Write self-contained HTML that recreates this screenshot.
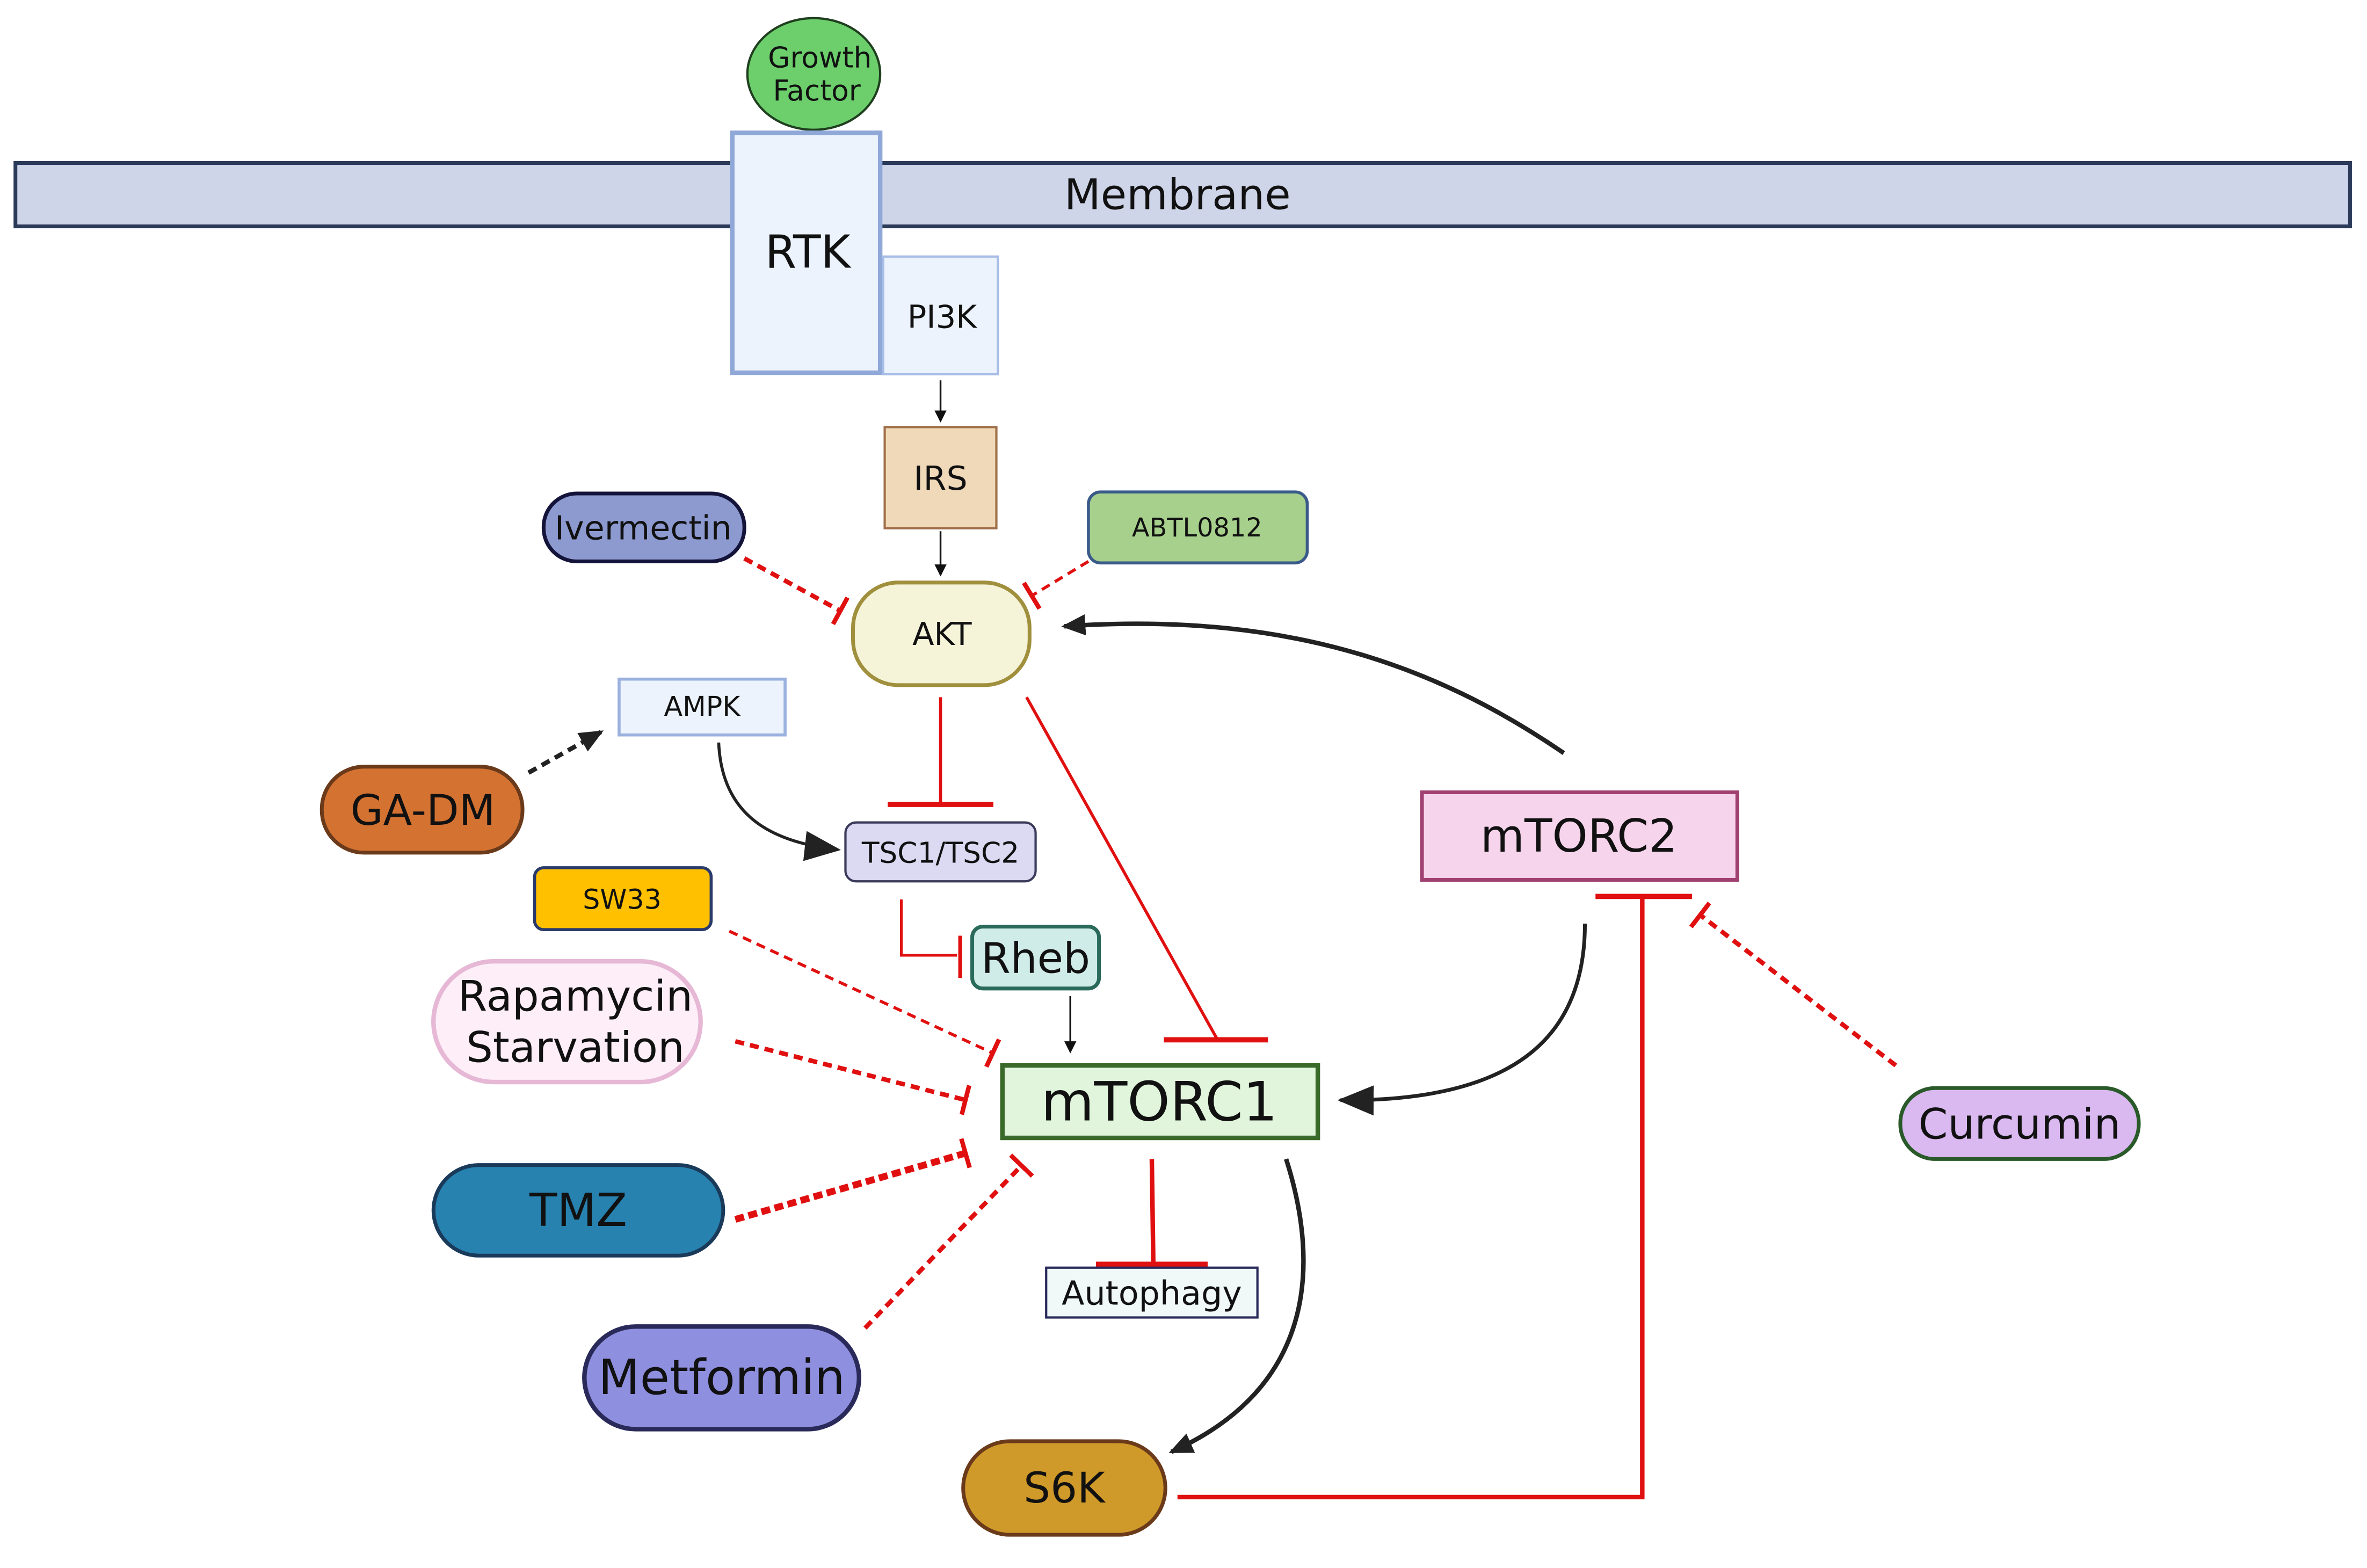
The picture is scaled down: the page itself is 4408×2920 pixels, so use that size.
<!DOCTYPE html>
<html><head><meta charset="utf-8"><style>
html,body{margin:0;padding:0;background:#fff;}
svg{display:block;}
text{font-family:"DejaVu Sans","Liberation Sans",sans-serif;text-anchor:middle;dominant-baseline:central;fill:#111;}
</style></head><body>
<svg width="4408" height="2920" viewBox="0 0 1568 1039" xmlns="http://www.w3.org/2000/svg">
<defs>
<marker id="a" markerWidth="8" markerHeight="8" refX="7" refY="4" orient="auto" markerUnits="userSpaceOnUse"><path d="M0,0 L8,4 L0,8 z" fill="#111"/></marker>
<marker id="b" markerWidth="24" markerHeight="20" refX="22" refY="10" orient="auto" markerUnits="userSpaceOnUse"><path d="M0,0 L24,10 L0,20 z" fill="#222"/></marker>
<marker id="c" markerWidth="16" markerHeight="14" refX="14" refY="7" orient="auto" markerUnits="userSpaceOnUse"><path d="M0,0 L16,7 L0,14 z" fill="#222"/></marker>
<marker id="t" markerWidth="4" markerHeight="20" refX="2" refY="10" orient="auto" markerUnits="userSpaceOnUse"><rect x="0" y="0" width="3" height="20" fill="#e01010"/></marker>
</defs>
<rect width="1568" height="1039" fill="#fff"/>
<!-- membrane -->
<rect x="10" y="108" width="1547" height="42" fill="#cfd5e8" stroke="#2c3a5a" stroke-width="2.5"/>
<text x="780" y="129" font-size="28">Membrane</text>
<ellipse cx="539" cy="49" rx="44" ry="37" fill="#6ccf6c" stroke="#1f3f1f" stroke-width="1.5"/>
<text x="543" y="38" font-size="19">Growth</text>
<text x="541" y="60" font-size="19">Factor</text>
<rect x="485" y="88" width="98" height="159" fill="#ecf3fc" stroke="#8fa8d8" stroke-width="3"/>
<text x="535" y="167" font-size="30">RTK</text>
<rect x="585" y="170" width="76" height="78" fill="#ecf3fc" stroke="#a8bde6" stroke-width="1.5"/>
<text x="624" y="210" font-size="21">PI3K</text>
<line x1="623" y1="252" x2="623" y2="279" stroke="#111" stroke-width="1.2" marker-end="url(#a)"/>
<rect x="586" y="283" width="74" height="67" fill="#efd9b9" stroke="#a0704a" stroke-width="1.5"/>
<text x="623" y="317" font-size="22">IRS</text>
<line x1="623" y1="352" x2="623" y2="381" stroke="#111" stroke-width="1.2" marker-end="url(#a)"/>
<rect x="565" y="386" width="117" height="68" rx="30" fill="#f5f3d8" stroke="#a08f3c" stroke-width="2.5"/>
<text x="624" y="420" font-size="21">AKT</text>
<rect x="360" y="327" width="133" height="45" rx="22" fill="#8d9ad0" stroke="#14143a" stroke-width="2.5"/>
<text x="426" y="350" font-size="22" fill="#1a2440">Ivermectin</text>
<rect x="721" y="326" width="145" height="47" rx="8" fill="#a8d08d" stroke="#3a5a8a" stroke-width="2"/>
<text x="793" y="350" font-size="17">ABTL0812</text>
<line x1="493" y1="370" x2="557" y2="405" stroke="#e01010" stroke-width="3" stroke-dasharray="6,4" marker-end="url(#t)"/>
<line x1="721" y1="372" x2="683" y2="395" stroke="#e01010" stroke-width="2" stroke-dasharray="6,4" marker-end="url(#t)"/>
<rect x="410" y="450" width="110" height="37" fill="#ecf3fc" stroke="#9ab0dd" stroke-width="2"/>
<text x="465" y="468" font-size="18">AMPK</text>
<rect x="213" y="508" width="133" height="57" rx="28" fill="#d47232" stroke="#6a3a1a" stroke-width="2.5"/>
<text x="280" y="537" font-size="28">GA-DM</text>
<line x1="350" y1="512" x2="398" y2="485" stroke="#222" stroke-width="3" stroke-dasharray="6,4" marker-end="url(#c)"/>
<path d="M476,492 C478,540 510,558 555,563" fill="none" stroke="#222" stroke-width="2" marker-end="url(#b)"/>
<line x1="623" y1="462" x2="623" y2="532" stroke="#e01010" stroke-width="2"/>
<line x1="588" y1="533" x2="658" y2="533" stroke="#e01010" stroke-width="3.5"/>
<line x1="680" y1="462" x2="806" y2="688" stroke="#e01010" stroke-width="2"/>
<line x1="771" y1="689" x2="840" y2="689" stroke="#e01010" stroke-width="3.5"/>
<rect x="560" y="545" width="126" height="39" rx="7" fill="#dcd9f2" stroke="#3a3a5a" stroke-width="1.5"/>
<text x="623" y="565" font-size="19">TSC1/TSC2</text>
<rect x="942" y="525" width="209" height="58" fill="#f6d4ec" stroke="#a04070" stroke-width="2.5"/>
<text x="1046" y="554" font-size="30">mTORC2</text>
<path d="M1036,499 C950,440 850,405 705,415" fill="none" stroke="#222" stroke-width="3" marker-end="url(#c)"/>
<line x1="1057" y1="594" x2="1121" y2="594" stroke="#e01010" stroke-width="3.5"/>
<polyline points="1088,594 1088,992 780,992" fill="none" stroke="#e01010" stroke-width="3"/>
<rect x="1259" y="721" width="158" height="47" rx="23" fill="#d9b9f0" stroke="#2a5a2a" stroke-width="2.5"/>
<text x="1338" y="745" font-size="28">Curcumin</text>
<line x1="1256" y1="706" x2="1126" y2="606" stroke="#e01010" stroke-width="3" stroke-dasharray="6,4" marker-end="url(#t)"/>
<path d="M1050,612 C1050,690 1000,730 888,729" fill="none" stroke="#222" stroke-width="2.5" marker-end="url(#b)"/>
<rect x="354" y="575" width="117" height="41" rx="6" fill="#ffc000" stroke="#2a3a6a" stroke-width="2"/>
<text x="412" y="596" font-size="18">SW33</text>
<line x1="483" y1="617" x2="658" y2="698" stroke="#e01010" stroke-width="2" stroke-dasharray="6,4" marker-end="url(#t)"/>
<rect x="287" y="637" width="177" height="80" rx="40" fill="#fdeef7" stroke="#e6b8d6" stroke-width="3"/>
<text x="381" y="660" font-size="28">Rapamycin</text>
<text x="381" y="694" font-size="28">Starvation</text>
<line x1="487" y1="690" x2="640" y2="729" stroke="#e01010" stroke-width="3" stroke-dasharray="6,4" marker-end="url(#t)"/>
<rect x="644" y="614" width="84" height="41" rx="7" fill="#d0ece8" stroke="#2a6a5a" stroke-width="2.5"/>
<text x="686" y="635" font-size="28">Rheb</text>
<polyline points="597,596 597,633 634,633" fill="none" stroke="#e01010" stroke-width="1.8"/>
<line x1="636" y1="620" x2="636" y2="648" stroke="#e01010" stroke-width="2.5"/>
<line x1="709" y1="660" x2="709" y2="697" stroke="#111" stroke-width="1.2" marker-end="url(#a)"/>
<rect x="664" y="706" width="209" height="48" fill="#e0f5dc" stroke="#3a6a2a" stroke-width="3"/>
<text x="768" y="730" font-size="36">mTORC1</text>
<rect x="287" y="772" width="192" height="60" rx="30" fill="#2782b0" stroke="#1a3a5a" stroke-width="2.5"/>
<text x="383" y="802" font-size="30">TMZ</text>
<line x1="487" y1="808" x2="640" y2="764" stroke="#e01010" stroke-width="4.5" stroke-dasharray="6,3" marker-end="url(#t)"/>
<rect x="387" y="879" width="182" height="68" rx="34" fill="#8f8fe0" stroke="#2a2a5a" stroke-width="3"/>
<text x="478" y="913" font-size="32">Metformin</text>
<line x1="573" y1="880" x2="677" y2="772" stroke="#e01010" stroke-width="3" stroke-dasharray="6,4" marker-end="url(#t)"/>
<line x1="763" y1="768" x2="764" y2="837" stroke="#e01010" stroke-width="3"/>
<line x1="726" y1="838" x2="800" y2="838" stroke="#e01010" stroke-width="4"/>
<rect x="693" y="840" width="140" height="33" fill="#f0f8f8" stroke="#2a2a5a" stroke-width="1.5"/>
<text x="763" y="857" font-size="22">Autophagy</text>
<path d="M852,768 C875,840 870,920 776,962" fill="none" stroke="#222" stroke-width="3" marker-end="url(#c)"/>
<rect x="638" y="955" width="134" height="62" rx="31" fill="#d09a2a" stroke="#6a3a1a" stroke-width="2.5"/>
<text x="705" y="986" font-size="28">S6K</text>
</svg>
</body></html>
